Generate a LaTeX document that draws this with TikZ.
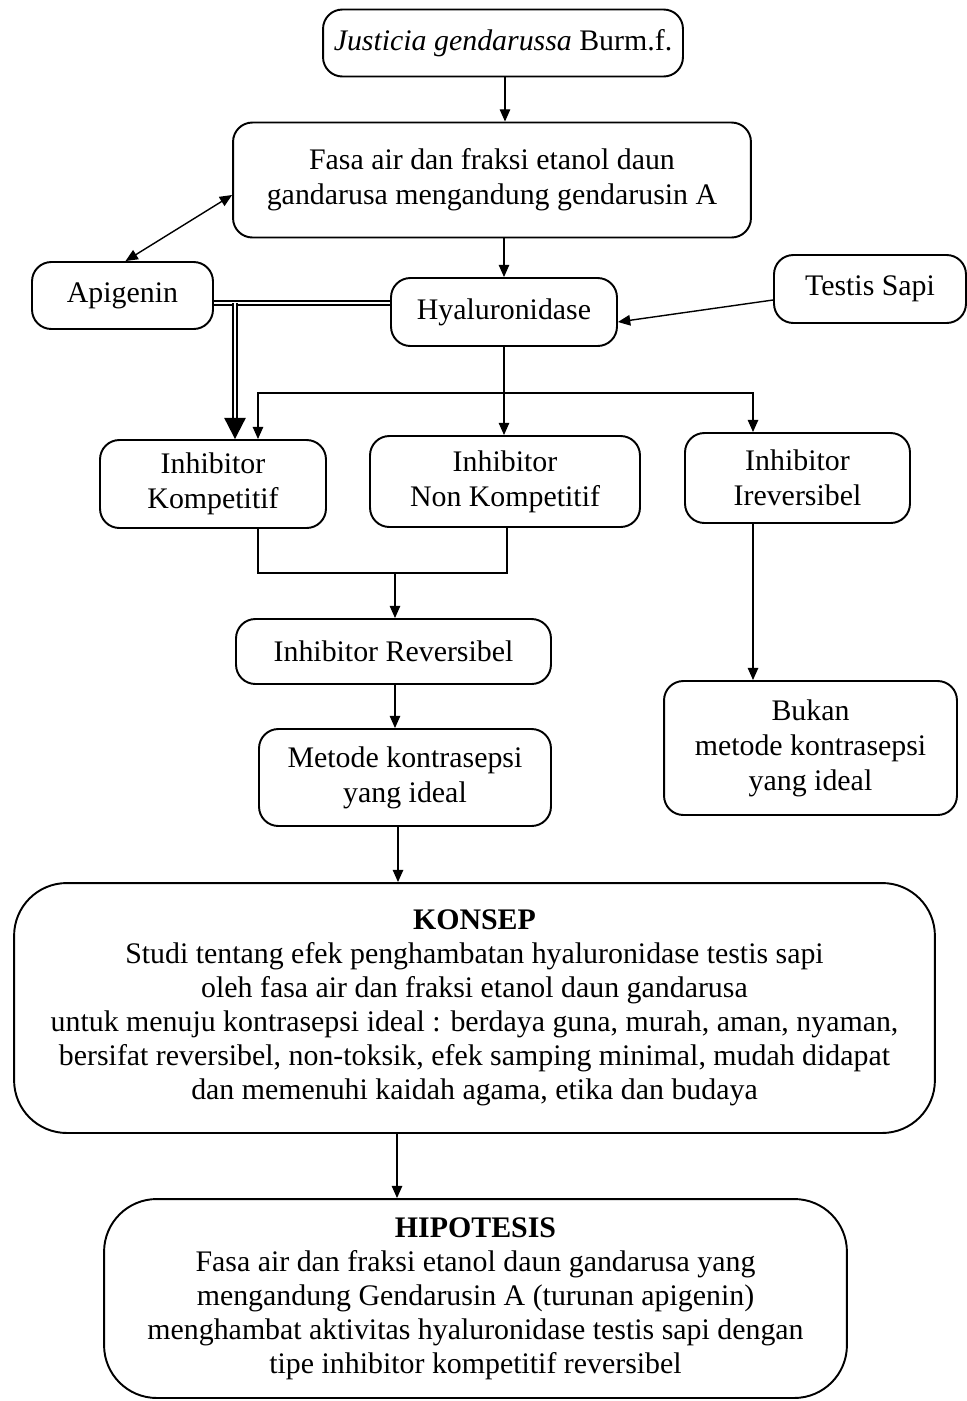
\documentclass[tikz,border=0pt]{standalone}
\usepackage{fontspec}
\setmainfont{Liberation Serif}
\usepackage{tikz}
\usetikzlibrary{arrows.meta}

\tikzset{
    box/.style={draw, line width=1.1pt, rounded corners=11pt, align=center,
                inner sep=0pt, font=\fontsize{17}{20}\selectfont},
    bigbox/.style={box, rounded corners=30pt, font=\fontsize{17}{19.3}\selectfont},
    arr/.style={line width=0.8pt, -{Triangle[length=7pt,width=6pt]}},
    dbl/.style={double, line width=1.2pt, double distance=1.4pt}
}

\begin{document}
\begin{tikzpicture}[x=0.02cm, y=-0.02cm]
    \useasboundingbox (0,0) rectangle (967,1401);

    \node[box, minimum width=7.2cm, minimum height=1.34cm] (just) at (503,43)
        {\textit{Justicia gendarussa} Burm.f.};
    \node[box, minimum width=10.36cm, minimum height=2.3cm] (fasa) at (492,180)
        {Fasa air dan fraksi etanol daun\\gandarusa mengandung gendarusin A};
    \node[box, minimum width=3.62cm, minimum height=1.34cm] (apig) at (122.5,295.5) {Apigenin};
    \node[box, minimum width=4.52cm, minimum height=1.36cm] (hyal) at (504,312) {Hyaluronidase};
    \node[box, minimum width=3.84cm, minimum height=1.36cm] (testis) at (870,289) {Testis Sapi};
    \node[box, minimum width=4.52cm, minimum height=1.76cm] (komp) at (213,484)
        {Inhibitor\\Kompetitif};
    \node[box, minimum width=5.4cm, minimum height=1.82cm] (nonk) at (505,481.5)
        {Inhibitor\\Non Kompetitif};
    \node[box, minimum width=4.5cm, minimum height=1.8cm] (irev) at (797.5,478)
        {Inhibitor\\Ireversibel};
    \node[box, minimum width=6.3cm, minimum height=1.3cm] (rev) at (393.5,651.5)
        {Inhibitor Reversibel};
    \node[box, minimum width=5.84cm, minimum height=1.94cm] (metode) at (405,777.5)
        {Metode kontrasepsi\\yang ideal};
    \node[box, minimum width=5.86cm, minimum height=2.68cm] (bukan) at (810.5,748)
        {Bukan\\metode kontrasepsi\\yang ideal};
    \node[bigbox, minimum width=18.42cm, minimum height=5.0cm] (konsep) at (474.5,1008)
        {\textbf{KONSEP}\\
         Studi tentang efek penghambatan hyaluronidase testis sapi\\
         oleh fasa air dan fraksi etanol daun gandarusa\\
         untuk menuju kontrasepsi ideal : berdaya guna, murah, aman, nyaman,\\
         bersifat reversibel, non-toksik, efek samping minimal, mudah didapat\\
         dan memenuhi kaidah agama, etika dan budaya};
    \node[bigbox, minimum width=14.86cm, minimum height=3.98cm] (hip) at (475.5,1298.5)
        {\textbf{HIPOTESIS}\\
         Fasa air dan fraksi etanol daun gandarusa yang\\
         mengandung Gendarusin A (turunan apigenin)\\
         menghambat aktivitas hyaluronidase testis sapi dengan\\
         tipe inhibitor kompetitif reversibel};

    \coordinate (split) at (505,393);
    \coordinate (join) at (395,573);
    \coordinate (kin) at ([xshift=0.44cm]komp.north);

    \draw[arr] ([xshift=0.04cm]just.south) -- ([xshift=0.04cm]just.south |- fasa.north);
    \draw[arr, {Triangle[length=7pt,width=6pt]}-{Triangle[length=7pt,width=6pt]}]
        ([yshift=-0.3cm]fasa.west) -- ([xshift=0.06cm]apig.north);
    \draw[arr] (fasa.south -| hyal) -- (hyal);
    \draw[arr] ([yshift=-0.22cm]testis.west) -- ([yshift=-0.2cm]hyal.east);
    \draw[dbl] ([yshift=-0.15cm]apig.east) -- ([yshift=-0.15cm]apig.east -| hyal.west);
    \draw[dbl, -{Triangle[length=12pt,width=12pt]}] ([yshift=-0.15cm]apig.east -| kin) -- (kin);
    \draw[arr] (hyal) -- (hyal |- nonk.north);
    \draw[arr] (split) -| ([xshift=0.9cm]komp.north);
    \draw[arr] (split) -| ([xshift=-0.89cm]irev.north);
    \draw[line width=0.8pt] ([xshift=0.9cm]komp.south) |- (join) -| ([xshift=0.04cm]nonk.south);
    \draw[arr] (join) -- (join |- rev.north);
    \draw[arr] (rev.south -| join) -- (join |- metode.north);
    \draw[arr] ([xshift=-0.14cm]metode.south) -- ([xshift=-0.14cm]metode.south |- konsep.north);
    \draw[arr] ([xshift=-0.89cm]irev.south) -- ([xshift=-0.89cm]irev.south |- bukan.north);
    \draw[arr] ([xshift=-1.55cm]konsep.south) -- ([xshift=-1.55cm]konsep.south |- hip.north);
\end{tikzpicture}
\end{document}
